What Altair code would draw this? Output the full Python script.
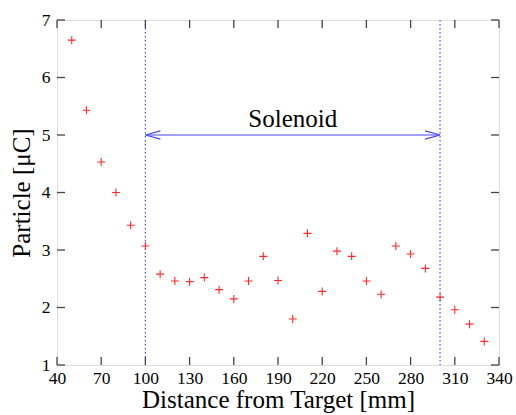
import altair as alt
import pandas as pd

distance = [50, 60, 70, 80, 90, 100, 110, 120, 130, 140, 150, 160, 170, 180, 190,
            200, 210, 220, 230, 240, 250, 260, 270, 280, 290, 300, 310, 320, 330]
charge = [6.65, 5.43, 4.53, 4.00, 3.43, 3.07, 2.58, 2.46, 2.45, 2.52, 2.31, 2.15, 2.46, 2.89, 2.47,
          1.80, 3.29, 2.28, 2.98, 2.89, 2.46, 2.23, 3.07, 2.93, 2.68, 2.18, 1.96, 1.71, 1.41]
x_ticks = [40, 70, 100, 130, 160, 190, 220, 250, 280, 310, 340]
y_ticks = [1, 2, 3, 4, 5, 6, 7]
solenoid_start = 100
solenoid_end = 300
arrow_level = 5
label_text = "Solenoid"

W, H = 442, 345
TICK = 8
FONT = "Liberation Serif"

df = pd.DataFrame({"d": distance, "q": charge})
xs = alt.Scale(domain=[40, 340], nice=False, zero=False)
ys = alt.Scale(domain=[1, 7], nice=False, zero=False)

xaxis = alt.Axis(values=x_ticks, format="d", tickSize=0, domain=False, grid=False,
                 labelFont=FONT, labelFontSize=17.5, labelColor="black", labelPadding=4,
                 title="Distance from Target [mm]", titleFont=FONT, titleFontSize=25,
                 titleFontWeight="normal", titleColor="black", titlePadding=1,
                 labelFlush=False)
yaxis = alt.Axis(values=y_ticks, format="d", tickSize=0, domain=False, grid=False,
                 labelFont=FONT, labelFontSize=17.5, labelColor="black", labelPadding=7,
                 title="Particle [μC]", titleFont=FONT, titleFontSize=25,
                 titleFontWeight="normal", titleColor="black", titlePadding=7,
                 labelFlush=False)


def X(field):
    return alt.X(field, scale=xs, axis=xaxis)


def Y(field):
    return alt.Y(field, scale=ys, axis=yaxis)


plus = "M -1 0 L 1 0 M 0 -1 L 0 1"
points = alt.Chart(df).mark_point(shape=plus, filled=False, stroke="#ff2a2a",
                                  strokeWidth=1.1, size=64, opacity=1).encode(
    x=X("d:Q"), y=Y("q:Q"))

bounds = pd.DataFrame({"d": [solenoid_start, solenoid_end]})
vlines = alt.Chart(bounds).mark_rule(color="#4a4aff", strokeDash=[1.5, 2.5],
                                     strokeWidth=1.2).encode(x=X("d:Q"))

arrow_df = pd.DataFrame({"a": [solenoid_start], "b": [solenoid_end], "q": [arrow_level]})
arrow = alt.Chart(arrow_df).mark_rule(color="#4444ff", strokeWidth=1.2).encode(
    x=X("a:Q"), x2="b:Q", y=Y("q:Q"))

left_head = pd.DataFrame({"d": [solenoid_start], "q": [arrow_level]})
right_head = pd.DataFrame({"d": [solenoid_end], "q": [arrow_level]})
lh = alt.Chart(left_head).mark_point(shape="M 0 0 L 2 -0.55 M 0 0 L 2 0.55", filled=False,
                                     stroke="#4444ff", strokeWidth=1.2, size=225, opacity=1).encode(
    x=X("d:Q"), y=Y("q:Q"))
rh = alt.Chart(right_head).mark_point(shape="M 0 0 L -2 -0.55 M 0 0 L -2 0.55", filled=False,
                                      stroke="#4444ff", strokeWidth=1.2, size=225, opacity=1).encode(
    x=X("d:Q"), y=Y("q:Q"))

text_df = pd.DataFrame({"d": [(solenoid_start + solenoid_end) / 2], "q": [arrow_level], "t": [label_text]})
label = alt.Chart(text_df).mark_text(font=FONT, fontSize=25, baseline="alphabetic", dy=-8,
                                     color="black").encode(
    x=X("d:Q"), y=Y("q:Q"), text="t:N")

xt = pd.DataFrame({"d": x_ticks})
yt = pd.DataFrame({"q": y_ticks})
tick_color = "#444444"
xb = alt.Chart(xt).mark_rule(color=tick_color, strokeWidth=1.3).encode(
    x=X("d:Q"), y=alt.value(H), y2=alt.value(H - TICK))
xtop = alt.Chart(xt).mark_rule(color=tick_color, strokeWidth=1.3).encode(
    x=X("d:Q"), y=alt.value(0), y2=alt.value(TICK))
yl = alt.Chart(yt).mark_rule(color=tick_color, strokeWidth=1.3).encode(
    y=Y("q:Q"), x=alt.value(0), x2=alt.value(TICK))
yr = alt.Chart(yt).mark_rule(color=tick_color, strokeWidth=1.3).encode(
    y=Y("q:Q"), x=alt.value(W - TICK), x2=alt.value(W))

chart = alt.layer(vlines, arrow, lh, rh, label, xb, xtop, yl, yr, points).properties(
    width=W, height=H,
    padding={"left": 57, "top": 20, "right": 17, "bottom": 50},
    autosize=alt.AutoSizeParams(type="none"),
).configure_view(stroke="#444444", strokeWidth=2).configure_axis(
    labelFont=FONT, titleFont=FONT
).configure_text(font=FONT).configure(background="white")

chart.save("out.html", embed_options={"renderer": "svg", "actions": False})
